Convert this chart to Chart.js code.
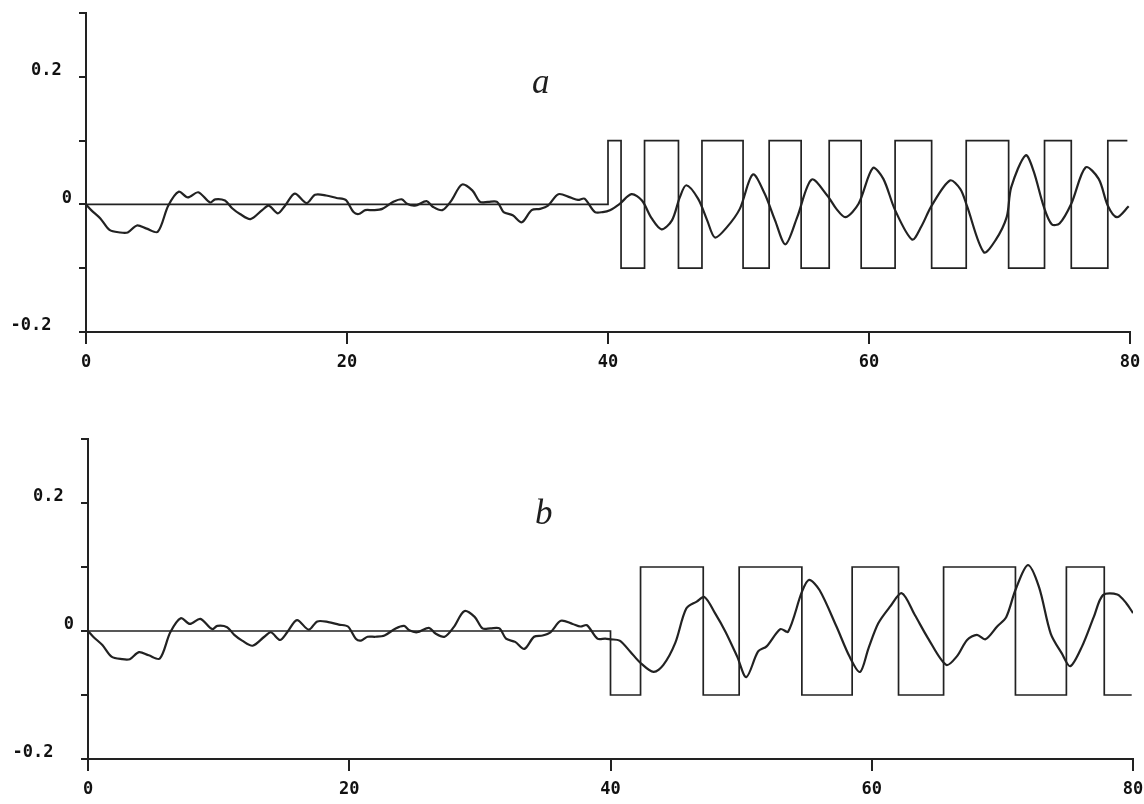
<!DOCTYPE html>
<html><head><meta charset="utf-8">
<script src="https://cdn.jsdelivr.net/npm/chart.js@4.4.1/dist/chart.umd.min.js"></script>
<style>
html,body{margin:0;padding:0;background:#fff;width:1144px;height:804px;overflow:hidden;}
.wrap{position:absolute;left:0;width:1144px;}
.lbl{position:absolute;font-family:"Liberation Serif",serif;font-style:italic;font-size:35px;color:#1e1e1e;line-height:1;}
</style></head><body>
<div class="wrap" style="top:0;height:400px"><canvas id="c1" width="1144" height="400"></canvas></div>
<div class="wrap" style="top:420px;height:384px"><canvas id="c2" width="1144" height="384"></canvas></div>
<div class="lbl" style="left:532px;top:64px">a</div>
<div class="lbl" style="left:535px;top:495px">b</div>
<script>
// shared noisy response before t = 40
const preX = [0, 0.4, 1.1, 1.8, 2.6, 3.2, 3.9, 4.65, 5.5, 6.3, 7.1, 7.8, 8.6, 9.5, 9.9, 10.65, 11.2, 11.8, 12.6, 13.5, 14.0, 14.7, 15.25, 16.0, 16.9, 17.55, 18.4, 19.2, 19.9, 20.5, 20.9, 21.4, 22.0, 22.7, 23.55, 24.2, 24.6, 25.2, 26.1, 26.6, 27.3, 28.0, 28.8, 29.6, 30.2, 30.8, 31.5, 32.0, 32.7, 33.4, 34.15, 34.8, 35.4, 36.2, 37.1, 37.7, 38.2, 39.0, 39.6];
const preY = [0, -0.009, -0.022, -0.040, -0.044, -0.044, -0.033, -0.038, -0.043, -0.002, 0.020, 0.011, 0.019, 0.003, 0.008, 0.006, -0.006, -0.015, -0.023, -0.009, -0.002, -0.014, -0.002, 0.017, 0.002, 0.015, 0.014, 0.010, 0.007, -0.012, -0.015, -0.009, -0.009, -0.007, 0.004, 0.008, 0.001, -0.002, 0.005, -0.004, -0.009, 0.006, 0.031, 0.022, 0.004, 0.004, 0.004, -0.012, -0.017, -0.028, -0.009, -0.007, -0.002, 0.016, 0.011, 0.007, 0.009, -0.012, -0.012];

// panel a: response after t = 40
const aX = [40.15, 40.9, 41.8, 42.6, 43.35, 44.1, 44.9, 45.5, 46.0, 46.9, 47.6, 48.2, 49.1, 50.1, 51.1, 52.0, 52.8, 53.6, 54.5, 55.6, 56.8, 57.5, 58.2, 59.2, 60.3, 61.1, 62.0, 63.3, 64.0, 64.8, 66.2, 67.0, 67.5, 68.8, 69.7, 70.55, 70.9, 72.0, 72.6, 73.4, 74.0, 74.6, 75.5, 76.6, 77.6, 78.3, 79.0, 79.9];
const aY = [-0.009, 0.001, 0.016, 0.006, -0.022, -0.039, -0.025, 0.011, 0.030, 0.009, -0.025, -0.052, -0.036, -0.007, 0.047, 0.017, -0.025, -0.0625, -0.020, 0.039, 0.014, -0.007, -0.020, 0.001, 0.057, 0.040, -0.009, -0.055, -0.035, -0.002, 0.0375, 0.024, -0.002, -0.075, -0.056, -0.020, 0.027, 0.077, 0.053, -0.004, -0.031, -0.030, 0.001, 0.058, 0.040, -0.002, -0.020, -0.003];

// panel b: response after t = 40
const bX = [40.0, 40.7, 41.5, 42.3, 43.3, 44.05, 44.95, 45.8, 46.6, 47.2, 48.0, 48.8, 49.7, 50.4, 51.3, 51.95, 53.0, 53.6, 54.65, 55.2, 56.0, 57.3, 58.3, 59.1, 59.75, 60.5, 61.4, 62.3, 63.3, 64.3, 65.7, 66.5, 67.3, 68.05, 68.7, 69.6, 70.3, 71.0, 71.95, 72.8, 73.7, 74.55, 75.2, 76.1, 77.0, 77.7, 78.8, 79.5, 80.0];
const bY = [-0.013, -0.015, -0.032, -0.050, -0.064, -0.053, -0.019, 0.035, 0.046, 0.053, 0.028, -0.001, -0.040, -0.072, -0.032, -0.024, 0.003, -0.001, 0.061, 0.080, 0.064, 0.007, -0.040, -0.064, -0.027, 0.012, 0.038, 0.059, 0.025, -0.011, -0.053, -0.040, -0.014, -0.006, -0.013, 0.007, 0.022, 0.064, 0.103, 0.069, -0.004, -0.035, -0.055, -0.024, 0.022, 0.056, 0.057, 0.043, 0.028];

// square-wave inputs: switching times and the level held from each time
const aSwitchX = [0, 40, 41.0, 42.8, 45.4, 47.2, 50.35, 52.35, 54.8, 56.95, 59.4, 62.0, 64.8, 67.45, 70.7, 73.45, 75.5, 78.3, 79.8];
const aSwitchY = [0, 0.1, -0.1, 0.1, -0.1, 0.1, -0.1, 0.1, -0.1, 0.1, -0.1, 0.1, -0.1, 0.1, -0.1, 0.1, -0.1, 0.1, 0.1];
const bSwitchX = [0, 40, 42.3, 47.1, 49.85, 54.65, 58.5, 62.05, 65.5, 71.0, 74.9, 77.8, 79.9];
const bSwitchY = [0, -0.1, 0.1, -0.1, 0.1, -0.1, 0.1, -0.1, 0.1, -0.1, 0.1, -0.1, -0.1];

// axis ticks
const xTicks = [0, 20, 40, 60, 80];
const yLabels = {"0.2": "0.2 ", "0": "0", "-0.2": "-0.2  "};

const INK = '#222222';
const tickFont = {family: 'DejaVu Sans Mono', weight: 'bold', size: 17};

function pts(xs, ys) { return xs.map((x, i) => ({x: x, y: ys[i]})); }

function makeChart(id, H, top, bottom, left, right, curveX, curveY, swX, swY) {
  new Chart(document.getElementById(id), {
    type: 'line',
    data: {
      datasets: [
        {data: pts(swX, swY), stepped: 'before', borderColor: INK, borderWidth: 1.7, pointRadius: 0, fill: false},
        {data: pts(preX.concat(curveX), preY.concat(curveY)), borderColor: INK, borderWidth: 2.2, pointRadius: 0, tension: 0.3, fill: false}
      ]
    },
    options: {
      responsive: false, animation: false, events: [],
      layout: {padding: {left: 0, right: 1144 - right, top: top, bottom: 0}},
      plugins: {legend: {display: false}, tooltip: {enabled: false}},
      scales: {
        x: {
          type: 'linear', min: 0, max: 80,
          afterFit: s => { s.height = H - bottom; s.paddingLeft = 0; s.paddingRight = 0; },
          afterBuildTicks: s => { s.ticks = xTicks.map(v => ({value: v})); },
          grid: {drawOnChartArea: false, drawTicks: true, tickLength: 12, color: INK, lineWidth: 2},
          border: {display: true, color: INK, width: 2},
          ticks: {font: tickFont, color: '#111111', padding: 8, maxRotation: 0, autoSkip: false,
                  callback: v => String(v)}
        },
        y: {
          type: 'linear', min: -0.2, max: 0.3,
          afterFit: s => { s.width = left; s.paddingTop = 0; s.paddingBottom = 0; },
          grid: {drawOnChartArea: false, drawTicks: true, tickLength: 7, color: INK, lineWidth: 2},
          border: {display: true, color: INK, width: 2},
          ticks: {stepSize: 0.1, font: tickFont, color: '#111111', padding: 7, labelOffset: -6,
                  callback: v => { const k = String(Math.round(v * 10) / 10); return yLabels[k] !== undefined ? yLabels[k] : ''; }}
        }
      }
    }
  });
}

makeChart('c1', 400, 13, 332, 86, 1130, aX, aY, aSwitchX, aSwitchY);
makeChart('c2', 384, 19, 339, 88, 1133, bX, bY, bSwitchX, bSwitchY);
</script>
</body></html>
